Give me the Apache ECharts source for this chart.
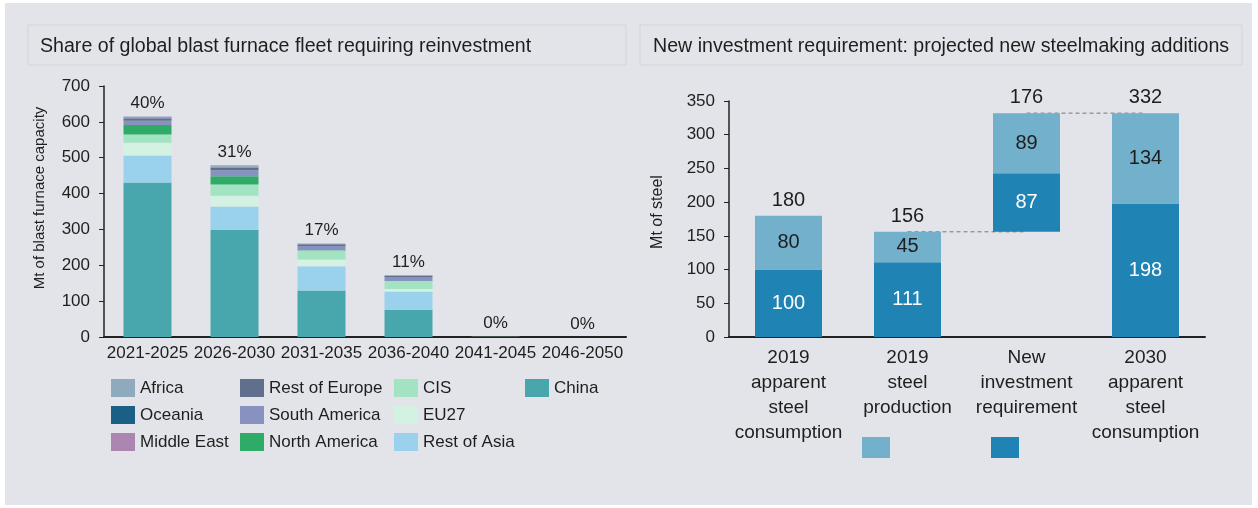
<!DOCTYPE html>
<html>
<head>
<meta charset="utf-8">
<title>Blast furnace reinvestment</title>
<script src="https://cdn.jsdelivr.net/npm/echarts@6/dist/echarts.min.js"></script>
<style>
  body { margin: 0; background: #fff; }
  #chart { width: 1258px; height: 508px; }
</style>
</head>
<body>
<div id="chart"></div>
<script>
// left panel: blast furnace capacity requiring reinvestment (Mt), by region
var periods      = ['2021-2025', '2026-2030', '2031-2035', '2036-2040', '2041-2045', '2046-2050'];
var china        = [431, 299, 130, 76, 0, 0];
var restOfAsia   = [75, 65, 67, 51, 0, 0];
var eu27         = [36, 30, 19, 7, 0, 0];
var cis          = [23, 31, 25, 22, 1, 0];
var northAmerica = [26, 23, 1, 0, 0, 0];
var southAmerica = [12, 17, 12, 11, 0, 0];
var restOfEurope = [6, 8, 5, 4, 0, 0];
var middleEast   = [1, 1, 0, 0, 0, 0];
var oceania      = [2, 1, 0, 0, 0, 0];
var africa       = [3, 4, 2, 2, 0, 0];
var shareLabels  = ['40%', '31%', '17%', '11%', '0%', '0%'];

// right panel: steel volumes (Mt)
var steelCats   = ['2019\napparent\nsteel\nconsumption', '2019\nsteel\nproduction', 'New\ninvestment\nrequirement', '2030\napparent\nsteel\nconsumption'];
var darkPart    = [100, 111, 87, 198];
var lightPart   = [80, 45, 89, 134];
var steelTotals = [180, 156, 176, 332];

var FONT = "'Liberation Sans', Arial, sans-serif";
var TXT = '#1e1e1e';

// stack order bottom -> top
var regions = [
    { name: 'China',         data: china,        color: '#48a7ad' },
    { name: 'Rest of Asia',  data: restOfAsia,   color: '#9ad1ed' },
    { name: 'EU27',          data: eu27,         color: '#d3f2e1' },
    { name: 'CIS',           data: cis,          color: '#a2e3c1' },
    { name: 'North America', data: northAmerica, color: '#2eab66' },
    { name: 'South America', data: southAmerica, color: '#8792c0' },
    { name: 'Rest of Europe',data: restOfEurope, color: '#5f6f8c' },
    { name: 'Middle East',   data: middleEast,   color: '#ab86b0' },
    { name: 'Oceania',       data: oceania,      color: '#1a5f86' },
    { name: 'Africa',        data: africa,       color: '#8faabd' }
];

var leftTotals = periods.map(function (p, i) {
    return regions.reduce(function (s, r) { return s + r.data[i]; }, 0);
});

// waterfall base for the new investment bar sits on 2019 production
var prodTop = darkPart[1] + lightPart[1];
var baseVals = steelCats.map(function (c, i) { return i === 2 ? prodTop : 0; });
var barTops = steelCats.map(function (c, i) { return baseVals[i] + darkPart[i] + lightPart[i]; });
var link1 = [null, prodTop, prodTop, null];
var link2 = [null, null, barTops[2], barTops[3]];

var series = regions.map(function (r) {
    return {
        name: r.name, type: 'bar', stack: 'bf', xAxisIndex: 0, yAxisIndex: 0,
        data: r.data, barWidth: 48, itemStyle: { color: r.color },
        animation: false
    };
});
series.push({
    name: 'share', type: 'line', xAxisIndex: 0, yAxisIndex: 0, data: leftTotals,
    symbol: 'circle', symbolSize: 1, itemStyle: { color: 'rgba(0,0,0,0)' },
    lineStyle: { opacity: 0 }, silent: true, animation: false, z: 5,
    label: { show: true, position: 'top', distance: 4, fontSize: 17, fontFamily: FONT, color: TXT,
        formatter: function (p) { return shareLabels[p.dataIndex]; } }
});

series.push(
    { name: 'base', type: 'bar', stack: 'st', xAxisIndex: 1, yAxisIndex: 1, data: baseVals,
      barWidth: 67, itemStyle: { color: 'rgba(0,0,0,0)' }, silent: true, animation: false },
    { name: 'New', type: 'bar', stack: 'st', xAxisIndex: 1, yAxisIndex: 1, data: darkPart,
      barWidth: 67, itemStyle: { color: '#1f83b4' }, animation: false,
      label: { show: true, position: 'inside', fontSize: 20, fontFamily: FONT, color: '#fff' } },
    { name: 'Existing', type: 'bar', stack: 'st', xAxisIndex: 1, yAxisIndex: 1, data: lightPart,
      barWidth: 67, itemStyle: { color: '#72b0cb' }, animation: false,
      label: { show: true, position: 'inside', fontSize: 20, fontFamily: FONT, color: TXT } },
    { name: 'link1', type: 'line', xAxisIndex: 1, yAxisIndex: 1, data: link1, z: 1,
      symbol: 'none', lineStyle: { color: '#777', width: 1, type: [4, 3] }, silent: true, animation: false },
    { name: 'link2', type: 'line', xAxisIndex: 1, yAxisIndex: 1, data: link2, z: 1,
      symbol: 'none', lineStyle: { color: '#777', width: 1, type: [4, 3] }, silent: true, animation: false },
    { name: 'totals', type: 'line', xAxisIndex: 1, yAxisIndex: 1, data: barTops,
      symbol: 'circle', symbolSize: 1, itemStyle: { color: 'rgba(0,0,0,0)' },
      lineStyle: { opacity: 0 }, silent: true, animation: false, z: 5,
      label: { show: true, position: 'top', distance: 5, fontSize: 20, fontFamily: FONT, color: TXT,
          formatter: function (p) { return steelTotals[p.dataIndex]; } } }
);

function legendCol(left, names) {
    return {
        orient: 'vertical', left: left, top: 379, padding: 0, itemWidth: 24, itemHeight: 18, itemGap: 9,
        icon: 'rect', data: names, selectedMode: false,
        textStyle: { fontSize: 17, fontFamily: FONT, color: TXT }
    };
}
function legendBox(left, name) {
    return {
        left: left, top: 437, padding: 0, itemWidth: 28, itemHeight: 21, icon: 'rect', data: [name],
        selectedMode: false, formatter: function () { return ''; }
    };
}

var axisLbl = { fontSize: 17, fontFamily: FONT, color: TXT };

var myChart = echarts.init(document.getElementById('chart'));
myChart.setOption({
    backgroundColor: '#fff',
    textStyle: { fontFamily: FONT },
    graphic: [
        { type: 'rect', shape: { x: 5, y: 3, width: 1247, height: 502 }, style: { fill: '#e3e4e9' }, z: -10 },
        { type: 'rect', shape: { x: 28, y: 25, width: 598, height: 40 }, style: { fill: 'none', stroke: '#d2d3da', lineWidth: 1 } },
        { type: 'rect', shape: { x: 640, y: 25, width: 602, height: 40 }, style: { fill: 'none', stroke: '#d2d3da', lineWidth: 1 } },
        { type: 'text', x: 40, y: 47, style: { text: 'Share of global blast furnace fleet requiring reinvestment',
            font: '19.6px ' + FONT, fill: TXT, verticalAlign: 'middle' } },
        { type: 'text', x: 653, y: 47, style: { text: 'New investment requirement: projected new steelmaking additions',
            font: '19.6px ' + FONT, fill: TXT, verticalAlign: 'middle' } },
        { type: 'text', x: 40, y: 198, rotation: Math.PI / 2, style: { text: 'Mt of blast furnace capacity',
            font: '15px ' + FONT, fill: TXT, align: 'center', verticalAlign: 'middle' } },
        { type: 'text', x: 658, y: 212, rotation: Math.PI / 2, style: { text: 'Mt of steel',
            font: '16px ' + FONT, fill: TXT, align: 'center', verticalAlign: 'middle' } }
    ],
    legend: [
        legendCol(111, ['Africa', 'Oceania', 'Middle East']),
        legendCol(240, ['Rest of Europe', 'South America', 'North America']),
        legendCol(394, ['CIS', 'EU27', 'Rest of Asia']),
        legendCol(525, ['China']),
        legendBox(862, 'Existing'),
        legendBox(991, 'New')
    ],
    grid: [
        { left: 104, right: 632, top: 86, bottom: 171, outerBoundsMode: 'none' },
        { left: 729, right: 53, top: 101, bottom: 171, outerBoundsMode: 'none' }
    ],
    xAxis: [
        { type: 'category', gridIndex: 0, data: periods,
          axisLine: { lineStyle: { color: '#222', width: 2 } }, axisTick: { show: false },
          axisLabel: Object.assign({ margin: 8, interval: 0 }, axisLbl) },
        { type: 'category', gridIndex: 1, data: steelCats,
          axisLine: { lineStyle: { color: '#222', width: 2 } }, axisTick: { show: false },
          axisLabel: { margin: 8, interval: 0, fontSize: 19, lineHeight: 25, fontFamily: FONT, color: TXT } }
    ],
    yAxis: [
        { type: 'value', gridIndex: 0, min: 0, max: 700, interval: 100, splitLine: { show: false },
          axisLine: { show: true, lineStyle: { color: '#222', width: 1.5 } },
          axisTick: { show: true, length: 5, lineStyle: { color: '#222' } },
          axisLabel: Object.assign({ margin: 14 }, axisLbl) },
        { type: 'value', gridIndex: 1, min: 0, max: 350, interval: 50, splitLine: { show: false },
          axisLine: { show: true, lineStyle: { color: '#222', width: 1.5 } },
          axisTick: { show: true, length: 5, lineStyle: { color: '#222' } },
          axisLabel: Object.assign({ margin: 14 }, axisLbl) }
    ],
    series: series
});
</script>
</body>
</html>
